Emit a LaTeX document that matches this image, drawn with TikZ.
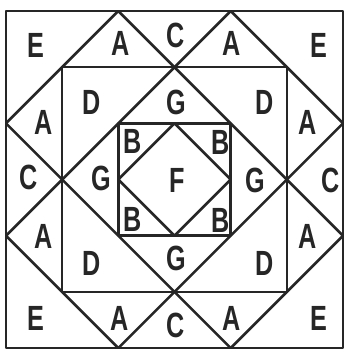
\documentclass[tikz,border=0pt]{standalone}
\usepackage{fontspec}
\newfontfamily\labfont[FakeStretch=0.72]{Liberation Sans}
\begin{document}
\begin{tikzpicture}[x=1pt,y=-1pt,
  lab/.style={font=\labfont\bfseries\fontsize{35}{35}\selectfont, inner sep=0pt, text=black!85},
  ln/.style={line width=2.6pt, line join=round, line cap=round, black!85}]
\useasboundingbox (0,0) rectangle (345,349);
\fill[white] (0,0) rectangle (345,349);
\begin{scope}[shift={(174.5,179.5)}, x=56.17pt, y=-56.17pt]
  \coordinate (o1) at (-3,-3); \coordinate (o2) at (3,3);
  \coordinate (m1) at (-2,-2); \coordinate (m2) at (2,2);
  \coordinate (i1) at (-1,-1); \coordinate (i2) at (1,1);
  \coordinate (tL) at (-1,-3); \coordinate (tR) at (1,-3);
  \coordinate (bL) at (-1,3);  \coordinate (bR) at (1,3);
  \coordinate (lT) at (-3,-1); \coordinate (lB) at (-3,1);
  \coordinate (rT) at (3,-1);  \coordinate (rB) at (3,1);
  \coordinate (dT) at (0,-1); \coordinate (dR) at (1,0);
  \coordinate (dB) at (0,1);  \coordinate (dL) at (-1,0);
  \draw[ln] (o1) rectangle (o2);
  \draw[ln] (m1) rectangle (m2);
  \draw[ln] (i1) rectangle (i2);
  \draw[ln] (dT) -- (dR) -- (dB) -- (dL) -- cycle;
  \draw[ln] (tL) -- (rB);
  \draw[ln] (lT) -- (bR);
  \draw[ln] (tR) -- (lB);
  \draw[ln] (rT) -- (bL);
  \draw[ln] (tL) -- (lT);
  \draw[ln] (tR) -- (rT);
  \draw[ln] (rB) -- (bR);
  \draw[ln] (lB) -- (bL);
\end{scope}
% labels
\node[lab] (e1) at (36,45) {E};
\node[lab] (a1) at (121,43) {A};
\node[lab] (c1) at (176,35) {C};
\node[lab] (a2) at (232,43) {A};
\node[lab] (e2) at (319,45) {E};
\node[lab] (a3) at (44,122) {A};
\node[lab] (d1) at (92,102) {D};
\node[lab] (g1) at (176,102) {G};
\node[lab] (d2) at (265,102) {D};
\node[lab] (a4) at (308,122) {A};
\node[lab] (b1) at (133,141) {B};
\node[lab] (b2) at (221,142) {B};
\node[lab] (c2) at (29,177) {C};
\node[lab] (g2) at (101,178) {G};
\node[lab] (f1) at (177,180) {F};
\node[lab] (g3) at (255,180) {G};
\node[lab] (c3) at (331,180) {C};
\node[lab] (b3) at (133,219) {B};
\node[lab] (b4) at (221,220) {B};
\node[lab] (a5) at (44,236) {A};
\node[lab] (d3) at (92,263) {D};
\node[lab] (g4) at (176,258) {G};
\node[lab] (d4) at (265,263) {D};
\node[lab] (a6) at (308,236) {A};
\node[lab] (e3) at (36,318) {E};
\node[lab] (a7) at (120,318) {A};
\node[lab] (c4) at (176,325) {C};
\node[lab] (a8) at (232,318) {A};
\node[lab] (e4) at (319,318) {E};
\end{tikzpicture}
\end{document}
